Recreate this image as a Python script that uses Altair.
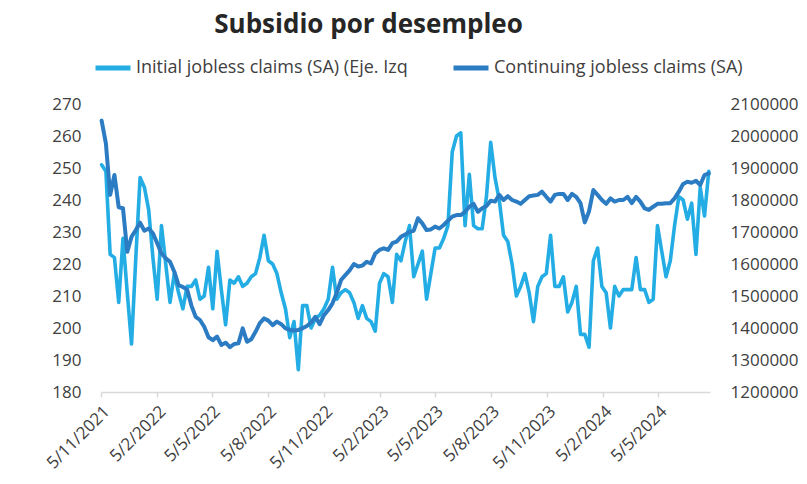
import altair as alt
import pandas as pd

# Weekly observations (week ending Saturday), first week 2021-11-06
first_week = "2021-11-06"

initial_claims = [
    251, 249, 223, 222, 208, 228, 211, 195, 222, 247,
    244, 237, 222, 209, 232, 220, 208, 217, 211, 206,
    213, 213, 215, 209, 210, 219, 206, 224, 212, 201,
    215, 214, 216, 213, 214, 216, 217, 222, 229, 221,
    220, 217, 211, 206, 197, 202, 187, 207, 207, 200,
    203, 204, 206, 209, 219, 209, 211, 212, 211, 208,
    203, 207, 203, 202, 199, 214, 217, 216, 208, 223,
    221, 227, 232, 216, 220, 224, 209, 217, 225, 225,
    228, 232, 255, 260, 261, 232, 248, 232, 231, 231,
    241, 258, 247, 240, 229, 227, 220, 210, 213, 217,
    211, 202, 213, 216, 217, 229, 213, 213, 216, 205,
    208, 213, 198, 198, 194, 221, 225, 213, 211, 200,
    213, 210, 212, 212, 212, 222, 212, 212, 208, 209,
    232, 224, 216, 221, 232, 241, 240, 234, 239, 223,
    244, 235, 249,
]

continuing_claims = [
    2048000, 1977000, 1816000, 1878000, 1777000, 1774000, 1638000, 1685000, 1706000, 1729000,
    1704000, 1711000, 1696000, 1665000, 1633000, 1618000, 1607000, 1576000, 1534000, 1528000,
    1520000, 1470000, 1435000, 1425000, 1404000, 1371000, 1362000, 1373000, 1347000, 1354000,
    1340000, 1350000, 1352000, 1399000, 1357000, 1365000, 1388000, 1415000, 1430000, 1423000,
    1409000, 1420000, 1412000, 1399000, 1394000, 1392000, 1394000, 1399000, 1406000, 1417000,
    1435000, 1412000, 1440000, 1456000, 1477000, 1510000, 1550000, 1565000, 1580000, 1600000,
    1592000, 1595000, 1607000, 1602000, 1633000, 1644000, 1649000, 1644000, 1665000, 1670000,
    1685000, 1692000, 1701000, 1704000, 1743000, 1727000, 1706000, 1708000, 1717000, 1711000,
    1722000, 1735000, 1748000, 1753000, 1753000, 1763000, 1779000, 1788000, 1763000, 1774000,
    1781000, 1798000, 1795000, 1816000, 1800000, 1812000, 1800000, 1795000, 1788000, 1800000,
    1812000, 1814000, 1816000, 1826000, 1810000, 1795000, 1816000, 1819000, 1819000, 1800000,
    1819000, 1810000, 1790000, 1730000, 1765000, 1831000, 1816000, 1800000, 1788000, 1805000,
    1795000, 1800000, 1800000, 1810000, 1790000, 1810000, 1795000, 1774000, 1769000, 1779000,
    1788000, 1788000, 1790000, 1790000, 1805000, 1826000, 1850000, 1857000, 1854000, 1860000,
    1847000, 1878000, 1883000,
]

series_names = ["Initial jobless claims (SA) (Eje. Izq", "Continuing jobless claims (SA)"]
series_colors = ["#23ade4", "#2b7cc3"]

tick_dates = [(2021, 11, 5), (2022, 2, 5), (2022, 5, 5), (2022, 8, 5), (2022, 11, 5),
              (2023, 2, 5), (2023, 5, 5), (2023, 8, 5), (2023, 11, 5), (2024, 2, 5), (2024, 5, 5)]
left_ticks = [180, 190, 200, 210, 220, 230, 240, 250, 260, 270]
right_ticks = [1200000, 1300000, 1400000, 1500000, 1600000, 1700000, 1800000, 1900000, 2000000, 2100000]

dates = pd.date_range(first_week, periods=len(initial_claims), freq="7D").strftime("%Y-%m-%d")
df_initial = pd.DataFrame({"fecha": dates, "valor": initial_claims, "serie": series_names[0]})
df_cont = pd.DataFrame({"fecha": dates, "valor": continuing_claims, "serie": series_names[1]})

FONT = "Open Sans"

x_enc = alt.X(
    "fecha:T",
    scale=alt.Scale(type="utc",
                    domain=[alt.DateTime(year=2021, month=11, date=5, utc=True),
                            alt.DateTime(year=2024, month=7, date=29, utc=True)]),
    axis=alt.Axis(
        values=[alt.DateTime(year=y, month=m, date=d, utc=True) for (y, m, d) in tick_dates],
        labelExpr="utcFormat(datum.value, '%-d/%-m/%Y')", labelAngle=-45, title=None,
        grid=False, domainColor="#d9d9d9", domainWidth=1.5, tickColor="#d9d9d9",
        tickSize=5, tickWidth=1.5, labelFont=FONT, labelFontSize=17, labelColor="#404040",
        labelPadding=6, labelOverlap=False, labelBound=False, labelFlush=False,
    ),
)

color_enc = alt.Color(
    "serie:N",
    scale=alt.Scale(domain=series_names, range=series_colors),
    legend=alt.Legend(
        title=None, orient="none", legendX=-8, legendY=-56, direction="horizontal",
        symbolType="stroke", symbolStrokeWidth=5, symbolSize=1225, labelFont=FONT,
        labelFontSize=18, labelColor="#404040", columnPadding=35, labelOffset=3,
        labelLimit=400,
    ),
)

initial_line = alt.Chart(df_initial).mark_line(strokeWidth=3.6, strokeJoin="round", strokeCap="round").encode(
    x=x_enc,
    y=alt.Y("valor:Q",
            scale=alt.Scale(domain=[180, 270], nice=False, zero=False),
            axis=alt.Axis(values=left_ticks, orient="left", title=None, grid=False, domain=False,
                          ticks=False, labelPadding=20, labelFont=FONT, labelFontSize=17,
                          labelColor="#404040")),
    color=color_enc,
)

continuing_line = alt.Chart(df_cont).mark_line(strokeWidth=4, strokeJoin="round", strokeCap="round").encode(
    x=x_enc,
    y=alt.Y("valor:Q",
            scale=alt.Scale(domain=[1200000, 2100000], nice=False, zero=False),
            axis=alt.Axis(values=right_ticks, orient="right", title=None, grid=False, domain=False,
                          ticks=False, labelPadding=20, format="d", labelFont=FONT, labelFontSize=17,
                          labelColor="#404040")),
    color=color_enc,
)

chart = alt.layer(initial_line, continuing_line).resolve_scale(y="independent").properties(
    width=609,
    height=288,
    autosize=alt.AutoSizeParams(type="none"),
    padding={"left": 101, "top": 104, "right": 97, "bottom": 92},
    background="white",
    title=alt.TitleParams("Subsidio por desempleo", font=FONT, fontSize=26, fontWeight="bold",
                          color="#262626", anchor="middle", dx=-37, offset=10),
).configure_view(stroke=None)

chart.save("out.html", embed_options={"renderer": "svg", "actions": False})
